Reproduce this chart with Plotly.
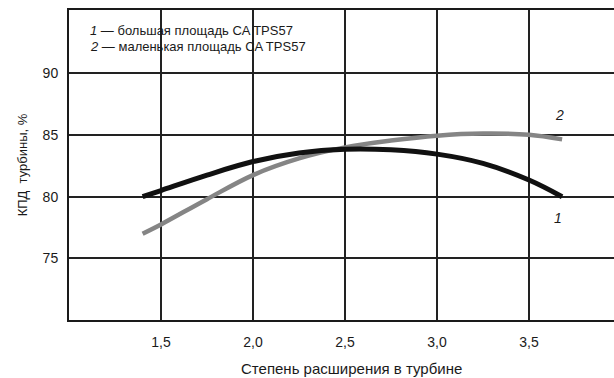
import plotly.graph_objects as go

# Pressure ratio across the turbine
x_large = [1.4, 1.5, 1.75, 2.0, 2.25, 2.5, 2.75, 3.0, 3.25, 3.5, 3.68]
eff_large = [80.0, 80.5, 81.75, 82.85, 83.55, 83.85, 83.8, 83.45, 82.7, 81.35, 80.0]

x_small = [1.4, 1.5, 1.75, 2.0, 2.25, 2.5, 2.75, 3.0, 3.25, 3.5, 3.68]
eff_small = [77.0, 77.75, 79.8, 81.75, 83.1, 84.0, 84.55, 84.95, 85.12, 85.02, 84.65]

x_ticks = [1.5, 2.0, 2.5, 3.0, 3.5]
x_tick_text = ["1,5", "2,0", "2,5", "3,0", "3,5"]
y_ticks = [75, 80, 85, 90]

legend_lines = ["<i>1</i> — большая площадь CA TPS57",
                "<i>2</i> — маленькая площадь CA TPS57"]
x_title = "Степень расширения в турбине"
y_title = "КПД  турбины, %"

FONT = "Liberation Sans, Arial, sans-serif"
INK = "#1a1a1a"

fig = go.Figure()

fig.add_trace(go.Scatter(
    x=x_small, y=eff_small, mode="lines", line_shape="spline",
    line=dict(color="#858585", width=4.5, smoothing=1.0), hoverinfo="skip"))
fig.add_trace(go.Scatter(
    x=x_large, y=eff_large, mode="lines", line_shape="spline",
    line=dict(color="#111111", width=5, smoothing=1.0), hoverinfo="skip"))

# blank panel behind the legend text
fig.add_shape(type="rect", xref="paper", yref="paper", layer="between",
              x0=0.003, x1=0.48, y0=0.83, y1=0.997,
              fillcolor="white", line_width=0)

for i, txt in enumerate(legend_lines):
    fig.add_annotation(xref="paper", yref="paper", x=0.035, y=0.935 - i * 0.053,
                       text=txt, showarrow=False, xanchor="left", yanchor="middle",
                       font=dict(family=FONT, size=13, color=INK))

# curve numbers at the right-hand ends
fig.add_annotation(x=3.668, y=86.6, text="<i>2</i>", showarrow=False,
                   font=dict(family=FONT, size=14, color=INK))
fig.add_annotation(x=3.658, y=78.27, text="<i>1</i>", showarrow=False,
                   font=dict(family=FONT, size=14, color=INK))

# x-axis caption, set slightly right of the domain centre
fig.add_annotation(xref="paper", yref="paper", x=0.519, y=-0.155,
                   text=x_title, showarrow=False, xanchor="center", yanchor="middle",
                   font=dict(family=FONT, size=15, color=INK))

fig.update_layout(
    width=614, height=378,
    margin=dict(l=69, r=0, t=10, b=58),
    paper_bgcolor="white", plot_bgcolor="white",
    showlegend=False,
    font=dict(family=FONT, size=13, color=INK),
    xaxis=dict(range=[1.0, 3.962], tickvals=x_ticks, ticktext=x_tick_text,
               showgrid=True, gridcolor="#222222", gridwidth=1.8,
               showline=True, linecolor="#1a1a1a", linewidth=2, mirror=True,
               ticks="", ticklabelstandoff=8, zeroline=False,
               tickfont=dict(family=FONT, size=14, color=INK)),
    yaxis=dict(range=[70, 95.14], tickvals=y_ticks,
               showgrid=True, gridcolor="#222222", gridwidth=1.8,
               showline=True, linecolor="#1a1a1a", linewidth=2, mirror=False,
               ticks="", ticklabelstandoff=6, zeroline=False,
               tickfont=dict(family=FONT, size=14, color=INK),
               title=dict(text=y_title, standoff=12,
                          font=dict(family=FONT, size=13, color=INK))),
)

fig.write_html("out.html")
